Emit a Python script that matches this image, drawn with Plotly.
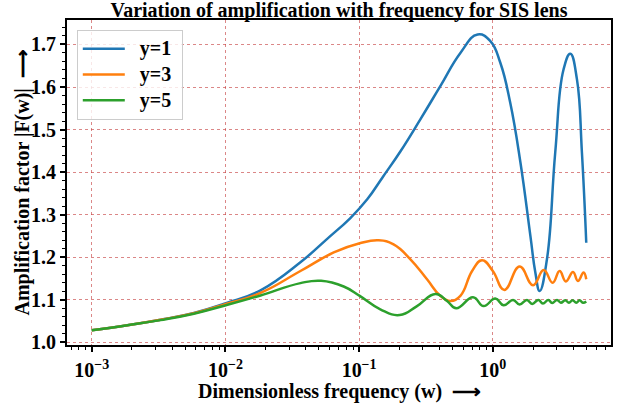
import plotly.graph_objects as go

# ---------------- data ----------------
w_y1 = [0.001, 0.00185, 0.00327, 0.00581, 0.0101, 0.0183, 0.0364, 0.0577, 0.086, 0.115,
        0.15, 0.204, 0.287, 0.405, 0.572, 0.77, 0.958, 1.138, 1.35, 1.61,
        1.91, 2.08, 2.24, 2.54, 2.93, 3.38, 3.80, 4.26, 4.64, 5.0]
amp_y1 = [1.028, 1.040, 1.053, 1.069, 1.092, 1.122, 1.188, 1.243, 1.292, 1.336,
          1.388, 1.449, 1.524, 1.602, 1.680, 1.7235, 1.708, 1.657, 1.563, 1.422,
          1.250, 1.164, 1.1205, 1.195, 1.446, 1.641, 1.678, 1.618, 1.446, 1.234]

w_y3 = [0.001, 0.00185, 0.00327, 0.00581, 0.0101, 0.0183, 0.0364, 0.0646, 0.101, 0.140,
        0.181, 0.242, 0.322, 0.405, 0.481, 0.572, 0.70, 0.83, 1.0, 1.22,
        1.585, 2.0, 2.40, 2.80, 3.16, 3.52, 3.98, 4.33, 4.77, 5.0]
amp_y3 = [1.028, 1.040, 1.053, 1.068, 1.090, 1.116, 1.1675, 1.211, 1.2326, 1.2396,
          1.230, 1.195, 1.148, 1.109, 1.097, 1.109, 1.1675, 1.193, 1.1675, 1.123,
          1.178, 1.134, 1.170, 1.140, 1.1675, 1.143, 1.165, 1.144, 1.164, 1.148]

w_y5 = [0.001, 0.00185, 0.00327, 0.00581, 0.0101, 0.0183, 0.0364, 0.052, 0.0767, 0.101,
        0.144, 0.201, 0.271, 0.372, 0.455, 0.533, 0.711, 0.853, 1.044, 1.205,
        1.416, 1.585, 1.80, 1.97, 2.19, 2.37, 2.60, 2.78, 3.02, 3.23,
        3.48, 3.71, 3.95, 4.21, 4.46, 4.72, 5.0]
amp_y5 = [1.028, 1.040, 1.052, 1.067, 1.087, 1.110, 1.139, 1.1445, 1.131, 1.109,
          1.0775, 1.064, 1.085, 1.1135, 1.097, 1.080, 1.1057, 1.085, 1.1027, 1.087,
          1.0994, 1.0886, 1.0994, 1.090, 1.0994, 1.091, 1.0994, 1.092, 1.0994, 1.093,
          1.0985, 1.093, 1.0985, 1.093, 1.0985, 1.093, 1.096]

series_names = ["y=1", "y=3", "y=5"]
series_w = [w_y1, w_y3, w_y5]
series_amp = [amp_y1, amp_y3, amp_y5]
series_colors = ["#1f77b4", "#ff7f0e", "#2ca02c"]

x_major_ticks = [0.001, 0.01, 0.1, 1]
x_major_text = ["10<sup>−3</sup>", "10<sup>−2</sup>", "10<sup>−1</sup>", "10<sup>0</sup>"]
x_minor_ticks = [k * 10.0 ** n for n in range(-4, 1) for k in range(2, 10)]

title_text = "Variation of amplification with frequency for SIS lens"
x_title = "Dimensionless frequency (w)  ⟶"
y_title = "Amplification factor |F(w)|  ⟶"

# ---------------- figure ----------------
FONT = "Liberation Serif, Times New Roman, serif"
L, R, T, B, W, H = 67, 14, 20, 58, 625, 403
PW, PH = W - L - R, H - T - B

fig = go.Figure()
for name, xs, ys, col in zip(series_names, series_w, series_amp, series_colors):
    fig.add_trace(go.Scatter(
        x=xs, y=ys, mode="lines",
        name="<span style='font-size:20px'>\u00a0\u00a0" + name + "\u00a0</span>",
        line=dict(color=col, width=2.5, shape="spline", smoothing=1.3)))

grid_col = "rgba(200,70,70,0.65)"
title_font = dict(family=FONT, size=20, weight="bold", color="black")
fig.update_layout(
    width=W, height=H,
    margin=dict(l=L, r=R, t=T, b=B),
    paper_bgcolor="white", plot_bgcolor="white",
    font=dict(family=FONT, color="black"),
    title=dict(text=title_text, x=(L + W - R) / 2 / W, xanchor="center",
               y=1 - 10 / H, yanchor="middle", font=title_font),
    legend=dict(x=0.018, y=0.97, xanchor="left", yanchor="top",
                bgcolor="rgba(255,255,255,0.8)", bordercolor="#cccccc", borderwidth=1,
                font=dict(family=FONT, size=17.5, weight="bold", color="black"),
                itemwidth=42, tracegroupgap=0),
    showlegend=True,
    annotations=[
        dict(text=x_title, xref="paper", yref="paper", x=0.5, y=(0 - (391 - (H - B))) / PH,
             xanchor="center", yanchor="middle", showarrow=False, font=title_font),
        dict(text=y_title, xref="paper", yref="paper", x=(22 - L) / PW, y=0.5,
             xanchor="center", yanchor="middle", textangle=-90, showarrow=False,
             font=title_font),
    ],
)
fig.update_xaxes(
    type="log", range=[-3.185, 0.884], automargin=False,
    tickmode="array", tickvals=x_major_ticks, ticktext=x_major_text,
    tickfont=dict(family=FONT, size=20, weight="bold", color="black"),
    ticks="outside", ticklen=5, tickwidth=1.5, tickcolor="black",
    ticklabelstandoff=1,
    showline=True, linecolor="black", linewidth=2, mirror=True,
    showgrid=True, gridcolor=grid_col, griddash="dot", gridwidth=1,
    zeroline=False,
    minor=dict(tickmode="array", tickvals=x_minor_ticks, ticks="outside", ticklen=3,
               tickwidth=1, tickcolor="black", showgrid=False),
)
fig.update_yaxes(
    range=[0.9935, 1.7575], tickmode="linear", tick0=1.0, dtick=0.1, tickformat=".1f",
    automargin=False,
    tickfont=dict(family=FONT, size=20, weight="bold", color="black"),
    ticks="outside", ticklen=5, tickwidth=1.5, tickcolor="black",
    showline=True, linecolor="black", linewidth=2, mirror=True,
    showgrid=True, gridcolor=grid_col, griddash="dot", gridwidth=1,
    zeroline=False,
    minor=dict(tick0=1.0, dtick=0.02, ticks="outside", ticklen=3,
               tickwidth=1, tickcolor="black", showgrid=False),
)

fig.write_html("out.html")
